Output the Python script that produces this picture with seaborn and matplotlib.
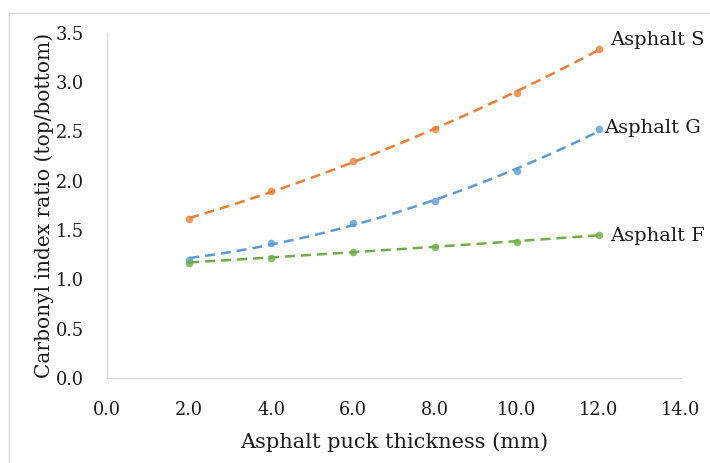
import matplotlib
matplotlib.use("Agg")
import matplotlib.pyplot as plt
import seaborn as sns
import numpy as np
import pandas as pd
from matplotlib.patches import Rectangle
from matplotlib.ticker import FormatStrFormatter, MultipleLocator

thickness = [2, 4, 6, 8, 10, 12]
asphalt_s = [1.61, 1.90, 2.20, 2.52, 2.89, 3.34]
asphalt_g = [1.20, 1.37, 1.57, 1.79, 2.10, 2.52]
asphalt_f = [1.17, 1.22, 1.28, 1.33, 1.38, 1.45]
series_names = ["Asphalt S", "Asphalt G", "Asphalt F"]
colors = ["#ED7D31", "#5B9BD5", "#70AD47"]

sns.set_theme(style="white")
plt.rcParams["font.family"] = ["DejaVu Serif"]

fig = plt.figure(figsize=(7.10, 4.63), dpi=100)
ax = fig.add_axes([0.151, 0.184, 0.808, 0.745])

data = {"Asphalt S": asphalt_s, "Asphalt G": asphalt_g, "Asphalt F": asphalt_f}
label_offsets = {"Asphalt S": (8, 6), "Asphalt G": (4, 1), "Asphalt F": (8, -1)}
for name, col in zip(series_names, colors):
    df = pd.DataFrame({"x": thickness, "y": data[name]})
    sns.regplot(data=df, x="x", y="y", order=2, ci=None, truncate=True, ax=ax,
                scatter_kws=dict(s=30, color=col, zorder=3, linewidths=0),
                line_kws=dict(color=col, linestyle=(0, (4, 2.4)), linewidth=1.8))
    ax.annotate(name, xy=(thickness[-1], data[name][-1]),
                xytext=label_offsets[name], textcoords="offset points",
                ha="left", va="center", fontsize=14, color="#1a1a1a",
                annotation_clip=False)

ax.set_xlim(0, 14)
ax.set_ylim(0, 3.5)
ax.xaxis.set_major_locator(MultipleLocator(2))
ax.yaxis.set_major_locator(MultipleLocator(0.5))
ax.xaxis.set_major_formatter(FormatStrFormatter("%.1f"))
ax.yaxis.set_major_formatter(FormatStrFormatter("%.1f"))
ax.tick_params(axis="both", labelsize=12.8, length=0)
ax.tick_params(axis="x", pad=17)
ax.tick_params(axis="y", pad=17)
for lbl in ax.get_xticklabels() + ax.get_yticklabels():
    lbl.set_color("#1a1a1a")
ax.set_xlabel("Asphalt puck thickness (mm)", fontsize=15, color="#1a1a1a", labelpad=9)
ax.set_ylabel("Carbonyl index ratio (top/bottom)", fontsize=14.5, color="#1a1a1a", labelpad=1)
ax.grid(False)
for side in ["top", "right"]:
    ax.spines[side].set_visible(False)
for side in ["left", "bottom"]:
    ax.spines[side].set_color("#d9d9d9")
    ax.spines[side].set_linewidth(1.0)

fig.patches.append(Rectangle((9 / 710, -0.1), 1.2, 1 - 13 / 463 + 0.1,
                             transform=fig.transFigure, fill=False,
                             edgecolor="#d9d9d9", linewidth=1.0))

fig.savefig("out.png", dpi=100)
